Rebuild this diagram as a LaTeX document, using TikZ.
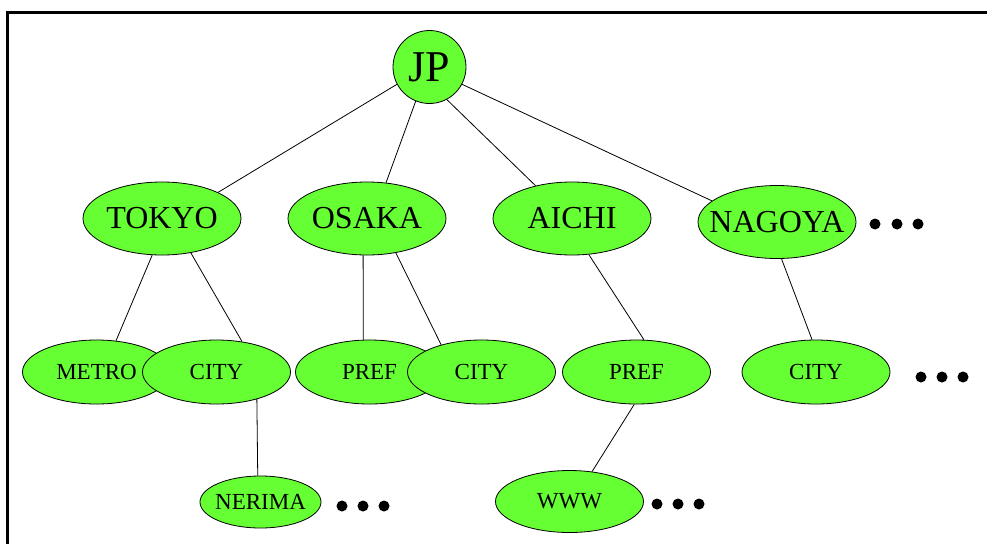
\documentclass[tikz,border=0pt]{standalone}
\usepackage{fontspec}
\setmainfont{Liberation Serif}
\usetikzlibrary{shapes.geometric}
\definecolor{nodegreen}{HTML}{66FF33}
% centred label that never widens its node
\newcommand\ctext[1]{\makebox[0pt]{#1}}

\begin{document}
\begin{tikzpicture}[x=1pt,y=-1pt,
  treenode/.style={draw=black, line width=0.8pt, fill=nodegreen, inner sep=0pt},
  rootnode/.style={treenode, circle, minimum size=73pt, font=\fontsize{44}{44}\selectfont},
  levelone/.style={treenode, ellipse, minimum width=158pt, minimum height=73pt, font=\fontsize{32}{32}\selectfont},
  leveltwo/.style={treenode, ellipse, minimum width=148pt, minimum height=64pt, font=\fontsize{23}{23}\selectfont},
  link/.style={line width=0.8pt},
  frame/.style={line width=3pt}]
\useasboundingbox (0,0) rectangle (987,544);

% frame along the top and left edges
\draw[frame] (7.5,544) -- (7.5,12.5) -- (987,12.5);

% root
\node[rootnode] (jp) at (429.5,67) {\ctext{JP}};

% prefectures / second level
\node[levelone] (tokyo)  at (162,218.5) {\ctext{TOKYO}};
\node[levelone] (osaka)  at (367,218.5) {\ctext{OSAKA}};
\node[levelone] (aichi)  at (572,218.5) {\ctext{AICHI}};
\node[levelone] (nagoya) at (777,222)   {\ctext{NAGOYA}};

% third level
\node[leveltwo] (metro)    at (96.5,372)  {\ctext{METRO}};
\node[leveltwo] (tkcity)   at (216.5,372) {\ctext{CITY}};
\node[leveltwo] (oskpref)  at (369.5,372) {\ctext{PREF}};
\node[leveltwo] (oskcity)  at (481.5,372) {\ctext{CITY}};
\node[leveltwo] (aipref)   at (636.5,372) {\ctext{PREF}};
\node[leveltwo] (ngcity)   at (816,372)   {\ctext{CITY}};

% fourth level
\node[leveltwo, minimum width=121pt, minimum height=52pt] (nerima) at (260.5,502) {\ctext{NERIMA}};
\node[leveltwo, minimum height=62pt] (www) at (569.5,501.5) {\ctext{WWW}};

% tree edges
\draw[link] (jp.208) -- (tokyo.25);
\draw[link] (jp.248) -- (osaka.62);
\draw[link] (jp.298) -- (aichi.138);
\draw[link] (jp.332) -- (nagoya.162);
\draw[link] (tokyo.255) -- (metro.58);
\draw[link] (tokyo.310) -- (tkcity.50);
\draw[link] (osaka.264) -- (oskpref.101);
\draw[link] (osaka.310) -- (oskcity.146);
\draw[link] (aichi.295) -- (aipref.77);
\draw[link] (nagoya.277) -- (ngcity.97);
\draw[link] (tkcity.326) -- (nerima.96);
\draw[link] (aipref.266) -- (www.53);

% ellipsis dots
\foreach \x/\y in {875/224, 897/224, 918/224,
                   921/377, 942/377, 963/377,
                   342/506, 363/506, 384/506,
                   657/504, 678/504, 699/504}
  \fill (\x,\y) circle (5.5pt);
\end{tikzpicture}
\end{document}
